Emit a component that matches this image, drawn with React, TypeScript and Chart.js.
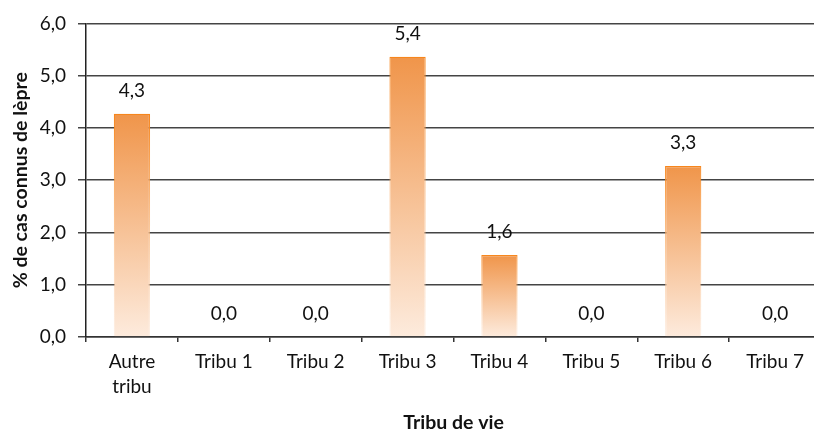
import React, { useEffect, useRef } from "react";
import { Chart, registerables } from "chart.js";

Chart.register(...registerables);

const categories: (string | string[])[] = [
  ["Autre", "tribu"],
  "Tribu 1",
  "Tribu 2",
  "Tribu 3",
  "Tribu 4",
  "Tribu 5",
  "Tribu 6",
  "Tribu 7",
];
const values: number[] = [4.27, 0, 0, 5.36, 1.57, 0, 3.27, 0];
const yTicks: number[] = [0, 1, 2, 3, 4, 5, 6];

const FONT = "Lato, 'Open Sans', sans-serif";
const fmt = (v: number) => v.toFixed(1).replace(".", ",");

const dataLabelPlugin = {
  id: "dataLabels",
  afterDatasetsDraw(chart: any) {
    const { ctx } = chart;
    const meta = chart.getDatasetMeta(0);
    ctx.save();
    ctx.font = `19px ${FONT}`;
    ctx.fillStyle = "#111";
    ctx.textAlign = "center";
    ctx.textBaseline = "middle";
    meta.data.forEach((bar: any, i: number) => {
      ctx.fillText(fmt(values[i]), bar.x, bar.y - 23);
    });
    ctx.restore();
  },
};

function barGradient(ctx: any, stops: [string, string]) {
  const chart = ctx.chart;
  if (!chart.chartArea || ctx.type !== "data") return stops[0];
  const y = chart.scales.y;
  const v = values[ctx.dataIndex];
  const top = y.getPixelForValue(v);
  const bottom = y.getPixelForValue(0);
  if (Math.abs(bottom - top) < 1) return stops[1];
  const g = chart.ctx.createLinearGradient(0, top, 0, bottom);
  g.addColorStop(0, stops[0]);
  g.addColorStop(1, stops[1]);
  return g;
}

export default function App() {
  const ref = useRef<HTMLCanvasElement>(null);
  useEffect(() => {
    if (!ref.current) return;
    const chart = new Chart(ref.current, {
      type: "bar",
      data: {
        labels: categories,
        datasets: [
          {
            data: values,
            backgroundColor: (c: any) => barGradient(c, ["#F0954A", "#FDEBDD"]),
            borderColor: (c: any) => barGradient(c, ["#F7861C", "rgba(252,225,205,0.5)"]),
            borderWidth: 1.2,
            borderSkipped: "bottom",
            barPercentage: 0.5,
            categoryPercentage: 0.79,
          },
        ],
      },
      options: {
        animation: false,
        responsive: false,
        maintainAspectRatio: false,
        layout: { padding: { top: 22, right: 9, left: 0, bottom: 0 } },
        plugins: {
          legend: { display: false },
          tooltip: { enabled: false },
        },
        scales: {
          x: {
            grid: {
              display: true,
              drawOnChartArea: false,
              drawTicks: true,
              tickLength: 5,
              color: "#333",
              lineWidth: 1.5,
              offset: true,
            },
            border: { display: true, color: "#333", width: 1.5 },
            ticks: {
              font: { family: FONT, size: 19, lineHeight: 1.3 },
              color: "#111",
              padding: 8,
              maxRotation: 0,
              autoSkip: false,
            },
            title: {
              display: true,
              text: "Tribu de vie",
              font: { family: FONT, size: 19.5, weight: "bold", lineHeight: 1 },
              color: "#111",
              padding: { top: 0, bottom: 0 },
            },
            afterFit: (s: any) => {
              s.height = 95;
            },
          },
          y: {
            min: 0,
            max: 6,
            afterBuildTicks: (s: any) => {
              s.ticks = yTicks.map((v) => ({ value: v }));
            },
            grid: {
              color: "#444",
              lineWidth: 1.5,
              tickLength: 8,
              drawTicks: true,
            },
            border: { display: true, color: "#222", width: 1.5 },
            ticks: {
              font: { family: FONT, size: 19 },
              color: "#111",
              padding: 12,
              callback: (v: any) => fmt(Number(v)),
            },
            title: {
              display: true,
              text: "% de cas connus de lèpre",
              font: { family: FONT, size: 19.5, weight: "bold", lineHeight: 1 },
              color: "#111",
              padding: { top: 11, bottom: 0 },
            },
            afterFit: (s: any) => {
              s.width = 86;
            },
          },
        },
      },
      plugins: [dataLabelPlugin],
    });
    return () => chart.destroy();
  }, []);
  return (
    <div style={{ position: "fixed", left: 0, top: 0, width: 830, height: 432, background: "#fff" }}>
      <canvas ref={ref} width={830} height={432} style={{ width: 830, height: 432, display: "block" }} />
    </div>
  );
}
